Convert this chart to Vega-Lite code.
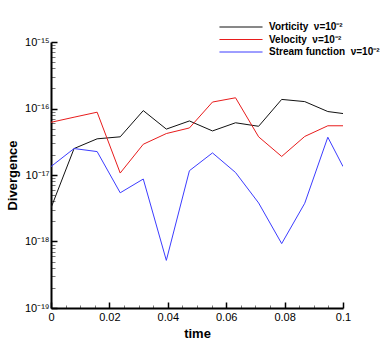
{
  "$schema": "https://vega.github.io/schema/vega-lite/v6.json",
  "width": 292,
  "height": 266,
  "autosize": {"type": "none"},
  "padding": {"left": 51, "top": 42, "right": 47, "bottom": 39},
  "background": "white",
  "config": {
    "view": {"stroke": null},
    "font": "Liberation Sans"
  },
  "data": {
    "values": [
      {"t": 0, "v": 3.2e-18, "s": "Vorticity\u00a0\u00a0ν=10⁻²"},
      {"t": 0.0079, "v": 2.5e-17, "s": "Vorticity\u00a0\u00a0ν=10⁻²"},
      {"t": 0.0158, "v": 3.5e-17, "s": "Vorticity\u00a0\u00a0ν=10⁻²"},
      {"t": 0.0237, "v": 3.75e-17, "s": "Vorticity\u00a0\u00a0ν=10⁻²"},
      {"t": 0.0316, "v": 9.3e-17, "s": "Vorticity\u00a0\u00a0ν=10⁻²"},
      {"t": 0.0395, "v": 4.9e-17, "s": "Vorticity\u00a0\u00a0ν=10⁻²"},
      {"t": 0.0474, "v": 6.5e-17, "s": "Vorticity\u00a0\u00a0ν=10⁻²"},
      {"t": 0.0553, "v": 4.6e-17, "s": "Vorticity\u00a0\u00a0ν=10⁻²"},
      {"t": 0.0632, "v": 6.1e-17, "s": "Vorticity\u00a0\u00a0ν=10⁻²"},
      {"t": 0.0711, "v": 5.4e-17, "s": "Vorticity\u00a0\u00a0ν=10⁻²"},
      {"t": 0.079, "v": 1.37e-16, "s": "Vorticity\u00a0\u00a0ν=10⁻²"},
      {"t": 0.0869, "v": 1.27e-16, "s": "Vorticity\u00a0\u00a0ν=10⁻²"},
      {"t": 0.0948, "v": 9.0e-17, "s": "Vorticity\u00a0\u00a0ν=10⁻²"},
      {"t": 0.1, "v": 8.4e-17, "s": "Vorticity\u00a0\u00a0ν=10⁻²"},
      {"t": 0, "v": 6.2e-17, "s": "Velocity\u00a0\u00a0ν=10⁻²"},
      {"t": 0.0079, "v": 7.4e-17, "s": "Velocity\u00a0\u00a0ν=10⁻²"},
      {"t": 0.0158, "v": 8.8e-17, "s": "Velocity\u00a0\u00a0ν=10⁻²"},
      {"t": 0.0237, "v": 1.07e-17, "s": "Velocity\u00a0\u00a0ν=10⁻²"},
      {"t": 0.0316, "v": 2.9e-17, "s": "Velocity\u00a0\u00a0ν=10⁻²"},
      {"t": 0.0395, "v": 4.2e-17, "s": "Velocity\u00a0\u00a0ν=10⁻²"},
      {"t": 0.0474, "v": 5.1e-17, "s": "Velocity\u00a0\u00a0ν=10⁻²"},
      {"t": 0.0553, "v": 1.25e-16, "s": "Velocity\u00a0\u00a0ν=10⁻²"},
      {"t": 0.0632, "v": 1.45e-16, "s": "Velocity\u00a0\u00a0ν=10⁻²"},
      {"t": 0.0711, "v": 3.75e-17, "s": "Velocity\u00a0\u00a0ν=10⁻²"},
      {"t": 0.079, "v": 1.9e-17, "s": "Velocity\u00a0\u00a0ν=10⁻²"},
      {"t": 0.0869, "v": 3.8e-17, "s": "Velocity\u00a0\u00a0ν=10⁻²"},
      {"t": 0.0948, "v": 5.5e-17, "s": "Velocity\u00a0\u00a0ν=10⁻²"},
      {"t": 0.1, "v": 5.5e-17, "s": "Velocity\u00a0\u00a0ν=10⁻²"},
      {"t": 0, "v": 1.34e-17, "s": "Stream function\u00a0\u00a0ν=10⁻²"},
      {"t": 0.0079, "v": 2.5e-17, "s": "Stream function\u00a0\u00a0ν=10⁻²"},
      {"t": 0.0158, "v": 2.25e-17, "s": "Stream function\u00a0\u00a0ν=10⁻²"},
      {"t": 0.0237, "v": 5.4e-18, "s": "Stream function\u00a0\u00a0ν=10⁻²"},
      {"t": 0.0316, "v": 8.7e-18, "s": "Stream function\u00a0\u00a0ν=10⁻²"},
      {"t": 0.0395, "v": 5.2e-19, "s": "Stream function\u00a0\u00a0ν=10⁻²"},
      {"t": 0.0474, "v": 1.16e-17, "s": "Stream function\u00a0\u00a0ν=10⁻²"},
      {"t": 0.0553, "v": 2.15e-17, "s": "Stream function\u00a0\u00a0ν=10⁻²"},
      {"t": 0.0632, "v": 1.09e-17, "s": "Stream function\u00a0\u00a0ν=10⁻²"},
      {"t": 0.0711, "v": 3.8e-18, "s": "Stream function\u00a0\u00a0ν=10⁻²"},
      {"t": 0.079, "v": 9.3e-19, "s": "Stream function\u00a0\u00a0ν=10⁻²"},
      {"t": 0.0869, "v": 3.76e-18, "s": "Stream function\u00a0\u00a0ν=10⁻²"},
      {"t": 0.0948, "v": 3.7e-17, "s": "Stream function\u00a0\u00a0ν=10⁻²"},
      {"t": 0.1, "v": 1.34e-17, "s": "Stream function\u00a0\u00a0ν=10⁻²"}
    ]
  },
  "mark": {"type": "line", "strokeWidth": 1, "clip": true},
  "encoding": {
    "x": {
      "field": "t",
      "type": "quantitative",
      "scale": {"domain": [0, 0.1], "nice": false, "zero": false},
      "axis": {
        "title": "time",
        "titleFont": "Liberation Sans",
        "titleFontSize": 13,
        "titleFontWeight": "bold",
        "titleColor": "black",
        "titlePadding": 2,
        "values": [0, 0.005, 0.01, 0.015, 0.02, 0.025, 0.03, 0.035, 0.04, 0.045, 0.05, 0.055, 0.06, 0.065, 0.07, 0.075, 0.08, 0.085, 0.09, 0.095, 0.1],
        "labelExpr": "abs(datum.value*50 - round(datum.value*50)) < 0.01 ? (datum.value == 0 ? '0' : format(datum.value, '.2~f')) : ''",
        "labelFont": "Liberation Sans",
        "labelFontSize": 11,
        "labelColor": "black",
        "labelPadding": 9,
        "labelFlush": false,
        "labelOverlap": false,
        "grid": false,
        "domainColor": "black",
        "domainWidth": 2,
        "tickColor": {"condition": {"test": "abs(datum.value*50 - round(datum.value*50)) < 0.01", "value": "black"}, "value": "#777"},
        "tickWidth": {"condition": {"test": "abs(datum.value*50 - round(datum.value*50)) < 0.01", "value": 1.5}, "value": 1},
        "tickSize": {"condition": {"test": "abs(datum.value*50 - round(datum.value*50)) < 0.01", "value": -6}, "value": -3}
      }
    },
    "y": {
      "field": "v",
      "type": "quantitative",
      "scale": {"type": "log", "domain": [1e-19, 1e-15], "nice": false},
      "axis": {
        "title": "Divergence",
        "titleFont": "Liberation Sans",
        "titleFontSize": 13,
        "titleFontWeight": "bold",
        "titleColor": "black",
        "titlePadding": 5,
        "values": [1e-19, 2e-19, 3e-19, 4e-19, 5e-19, 6e-19, 7e-19, 8e-19, 9e-19, 1e-18, 2e-18, 3e-18, 4e-18, 5e-18, 6e-18, 7e-18, 8e-18, 9e-18, 1e-17, 2e-17, 3e-17, 4e-17, 5e-17, 6e-17, 7e-17, 8e-17, 9e-17, 1e-16, 2e-16, 3e-16, 4e-16, 5e-16, 6e-16, 7e-16, 8e-16, 9e-16, 1e-15],
        "labelExpr": "abs(log(datum.value)/LN10 - round(log(datum.value)/LN10)) < 0.01 ? '10⁻¹' + ['⁵','⁶','⁷','⁸','⁹'][-15 - round(log(datum.value)/LN10)] : ''",
        "labelFont": "Liberation Sans",
        "labelFontSize": 11,
        "labelColor": "black",
        "labelPadding": 8,
        "labelFlush": false,
        "labelOverlap": false,
        "grid": false,
        "domainColor": "black",
        "domainWidth": 2,
        "tickColor": {"condition": {"test": "abs(log(datum.value)/LN10 - round(log(datum.value)/LN10)) < 0.01", "value": "black"}, "value": "#777"},
        "tickWidth": {"condition": {"test": "abs(log(datum.value)/LN10 - round(log(datum.value)/LN10)) < 0.01", "value": 1.5}, "value": 1},
        "tickSize": {"condition": {"test": "abs(log(datum.value)/LN10 - round(log(datum.value)/LN10)) < 0.01", "value": -6}, "value": -4}
      }
    },
    "color": {
      "field": "s",
      "type": "nominal",
      "sort": ["Vorticity\u00a0\u00a0ν=10⁻²", "Velocity\u00a0\u00a0ν=10⁻²", "Stream function\u00a0\u00a0ν=10⁻²"],
      "scale": {
        "domain": ["Vorticity\u00a0\u00a0ν=10⁻²", "Velocity\u00a0\u00a0ν=10⁻²", "Stream function\u00a0\u00a0ν=10⁻²"],
        "range": ["#111111", "#e81c1c", "#3c3cff"]
      },
      "legend": {
        "title": null,
        "orient": "none",
        "legendX": 184,
        "legendY": -21,
        "symbolType": "M-4,0L4,0",
        "symbolSize": 116,
        "symbolStrokeWidth": 1,
        "labelFont": "Liberation Sans",
        "labelFontSize": 10,
        "labelFontWeight": "bold",
        "labelColor": "black",
        "labelOffset": 22,
        "labelLimit": 200,
        "rowPadding": 1.5
      }
    }
  }
}
